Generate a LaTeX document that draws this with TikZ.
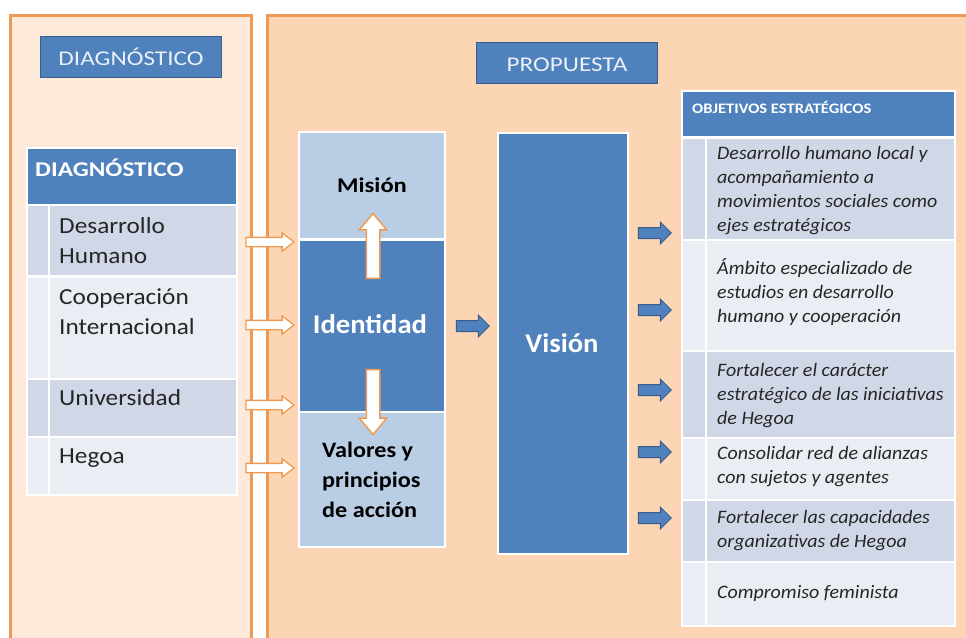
\documentclass[tikz,border=0pt]{standalone}
\usepackage{fontspec}
\setmainfont{Carlito}
\usetikzlibrary{shapes.arrows,positioning}

\definecolor{peachlight}{HTML}{FDEADA}
\definecolor{peach}{HTML}{FCD5B5}
\definecolor{orangeline}{HTML}{EE9A55}
\definecolor{blueacc}{HTML}{4F81BD}
\definecolor{bluedark}{HTML}{385D8A}
\definecolor{bluelight}{HTML}{B9CDE5}
\definecolor{rowdark}{HTML}{D0D8E8}
\definecolor{rowlight}{HTML}{E9EDF4}
\definecolor{txt}{HTML}{262626}
\definecolor{titletxt}{HTML}{EAF0F8}

\tikzset{
  panel/.style={draw=orangeline,line width=3pt},
  titlebox/.style={draw=bluedark,fill=blueacc,line width=1.5pt,minimum width=181pt,minimum height=41pt,inner sep=0pt},
  titletext/.style={anchor=base,inner sep=0pt,text=titletxt,xscale=1.2,font=\fontsize{21}{25}\selectfont},
  cell/.style={draw=white,line width=1.5pt,anchor=north west,inner sep=0pt},
  headcell/.style={cell,fill=blueacc},
  darkcell/.style={cell,fill=rowdark},
  lightcell/.style={cell,fill=rowlight},
  headtext/.style={anchor=base west,inner sep=0pt,text=white,xscale=1.2,font=\bfseries},
  lefttext/.style={anchor=base west,inner sep=0pt,align=left,text=txt,xscale=1.1,font=\fontsize{23}{30}\selectfont},
  boldtext/.style={anchor=base,inner sep=0pt,font=\bfseries},
  objtext/.style={anchor=base west,inner sep=0pt,align=left,text=txt,xscale=1.05,font=\fontsize{19}{24}\selectfont\itshape},
  hollowarrow/.style={single arrow,draw=orangeline,fill=white,line width=1.3pt,inner sep=4pt,
    single arrow head extend=4.5pt,single arrow tip angle=75,minimum height=48pt},
  hollowvert/.style={single arrow,draw=orangeline,fill=white,line width=1.5pt,inner sep=6pt,
    single arrow head extend=7pt,single arrow tip angle=80,minimum height=65pt},
  bluearrow/.style={single arrow,draw=bluedark,fill=blueacc,line width=1pt,inner sep=5pt,
    single arrow head extend=5.5pt,minimum height=33pt}
}

\begin{document}
\begin{tikzpicture}[x=1pt,y=-1pt]
\useasboundingbox (0,0) rectangle (966,637);
\clip (0,0) rectangle (966,637);
\fill[white] (0,0) rectangle (966,637);

\draw[panel,fill=peachlight] (10,15) rectangle (251,660);
\draw[panel,fill=peach] (267,15) rectangle (990,660);

\node[titlebox] (diagtitle) at (131,57) {};
\node[titletext] (diagtitletxt) at (131,65) {DIAGNÓSTICO};
\node[titlebox] (proptitle) at (567,63) {};
\node[titletext] (proptitletxt) at (567,71) {PROPUESTA};

% diagnostico
\node[headcell,minimum width=210pt,minimum height=57pt] (diaghead) at (26,147) {};
\node[darkcell,minimum width=210pt,minimum height=71pt] (dh) at (26,204) {};
\node[lightcell,minimum width=210pt,minimum height=102pt] (ci) at (26,276) {};
\node[darkcell,minimum width=210pt,minimum height=58pt] (un) at (26,378) {};
\node[lightcell,minimum width=210pt,minimum height=58pt] (he) at (26,436) {};
\draw[white,line width=1.5pt] (49,204) -- (49,494);
\node[headtext,font=\fontsize{21}{25}\selectfont\bfseries] (diagheadtxt) at (35,176) {DIAGNÓSTICO};
\node[lefttext] (dhtxt) at (59,263) {Desarrollo\\Humano};
\node[lefttext] (citxt) at (59,334) {Cooperación\\Internacional};
\node[lefttext] (untxt) at (59,405) {Universidad};
\node[lefttext] (hetxt) at (59,463) {Hegoa};

\node[hollowarrow] (a1) at (267,242) {};
\node[hollowarrow] (a2) at (267,325) {};
\node[hollowarrow] (a3) at (267,405) {};
\node[hollowarrow] (a4) at (267,468) {};

% identidad
\node[cell,fill=bluelight,minimum width=146pt,minimum height=107pt] (mision) at (298,131) {};
\node[cell,fill=blueacc,minimum width=146pt,minimum height=172pt] (identidad) at (298,239) {};
\node[cell,fill=bluelight,minimum width=146pt,minimum height=135pt] (valores) at (298,411) {};
\node[boldtext,text=black,xscale=1.17,font=\fontsize{21}{25}\selectfont\bfseries] (misiontxt) at (372,192) {Misión};
\node[boldtext,text=white,xscale=1.06,font=\fontsize{27}{30}\selectfont\bfseries] (identidadtxt) at (370,333) {Identidad};
\node[anchor=base west,inner sep=0pt,align=left,text=black,xscale=1.1,font=\fontsize{22}{30}\selectfont\bfseries] (valorestxt) at (322,517) {Valores y\\principios\\de acción};

\node[hollowvert,rotate=90] (up) at (373,250) {};
\node[hollowvert,rotate=-90] (down) at (373,398) {};

\node[bluearrow] (b0) at (470,326) {};

% vision
\node[cell,fill=blueacc,minimum width=130pt,minimum height=421pt] (vision) at (497,132) {};
\node[boldtext,text=white,xscale=1.06,font=\fontsize{27}{30}\selectfont\bfseries] (visiontxt) at (562,352) {Visión};

\node[bluearrow] (b1) at (652,233) {};
\node[bluearrow] (b2) at (652,310) {};
\node[bluearrow] (b3) at (652,390) {};
\node[bluearrow] (b4) at (652,452) {};
\node[bluearrow] (b5) at (652,518) {};

% objetivos
\node[headcell,minimum width=273pt,minimum height=46pt] (objhead) at (681,90) {};
\node[darkcell,minimum width=273pt,minimum height=102pt] (o1) at (681,137) {};
\node[lightcell,minimum width=273pt,minimum height=111pt] (o2) at (681,239) {};
\node[darkcell,minimum width=273pt,minimum height=87pt] (o3) at (681,350) {};
\node[lightcell,minimum width=273pt,minimum height=62pt] (o4) at (681,437) {};
\node[darkcell,minimum width=273pt,minimum height=62pt] (o5) at (681,499) {};
\node[lightcell,minimum width=273pt,minimum height=64pt] (o6) at (681,561) {};
\draw[white,line width=1.5pt] (706,137) -- (706,625);
\node[headtext,xscale=0.95,font=\fontsize{14.5}{17}\selectfont\bfseries] (objheadtxt) at (692,113) {OBJETIVOS ESTRATÉGICOS};
\node[objtext] (o1txt) at (717,231) {Desarrollo humano local y\\acompañamiento a\\movimientos sociales como\\ejes estratégicos};
\node[objtext] (o2txt) at (717,322) {Ámbito especializado de\\estudios en desarrollo\\humano y cooperación};
\node[objtext] (o3txt) at (717,424) {Fortalecer el carácter\\estratégico de las iniciativas\\de Hegoa};
\node[objtext] (o4txt) at (717,483) {Consolidar red de alianzas\\con sujetos y agentes};
\node[objtext] (o5txt) at (717,547) {Fortalecer las capacidades\\organizativas de Hegoa};
\node[objtext] (o6txt) at (717,598) {Compromiso feminista};
\end{tikzpicture}
\end{document}
